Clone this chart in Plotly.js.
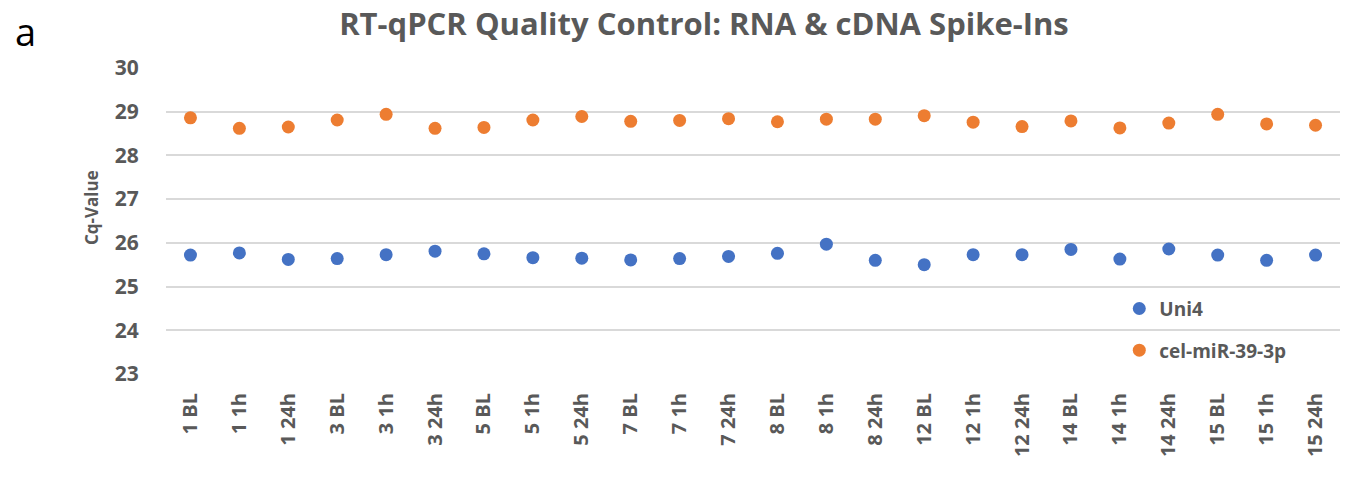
<!DOCTYPE html>
<html><head><meta charset="utf-8">
<script src="https://cdn.plot.ly/plotly-3.0.1.min.js"></script>
<style>html,body{margin:0;padding:0;background:#fff}#chart{width:1368px;height:480px}</style>
</head><body><div id="chart"></div>
<script>
const categories = ["1 BL","1 1h","1 24h","3 BL","3 1h","3 24h","5 BL","5 1h","5 24h","7 BL","7 1h","7 24h","8 BL","8 1h","8 24h","12 BL","12 1h","12 24h","14 BL","14 1h","14 24h","15 BL","15 1h","15 24h"];
const uni4 = [25.72,25.77,25.62,25.64,25.73,25.81,25.75,25.66,25.65,25.61,25.64,25.69,25.76,25.97,25.60,25.50,25.73,25.73,25.85,25.63,25.86,25.72,25.60,25.72];
const celMiR39 = [28.86,28.62,28.65,28.81,28.94,28.62,28.64,28.81,28.89,28.78,28.80,28.84,28.77,28.83,28.83,28.91,28.76,28.66,28.79,28.63,28.74,28.94,28.72,28.69];
const yTicks = [23,24,25,26,27,28,29,30];

const FONT = "'Open Sans', sans-serif";
const GRAY = "#595959";
const traces = [
  {x: categories, y: uni4, name: "<b>Uni4</b>", type: "scatter", mode: "markers", legendgroup: "g1",
   marker: {color: "#4472C4", size: 13}},
  {x: categories, y: celMiR39, name: "<b>cel-miR-39-3p</b>", type: "scatter", mode: "markers", legendgroup: "g2",
   marker: {color: "#ED7D31", size: 13}}
];
const layout = {
  width: 1368, height: 480,
  margin: {l: 166, r: 28, t: 68, b: 106},
  paper_bgcolor: "#fff", plot_bgcolor: "#fff",
  font: {family: FONT, color: GRAY},
  title: {text: "<b>RT-qPCR Quality Control: RNA & cDNA Spike-Ins</b>",
    font: {family: FONT, size: 31, color: GRAY},
    x: 0.5146, xanchor: "center", xref: "container", y: 0.95, yanchor: "middle", yref: "container"},
  xaxis: {type: "category", range: [-0.5, 23.5], tickangle: -90, showgrid: false, zeroline: false,
    showline: false, ticks: "outside", ticklen: 10, tickcolor: "rgba(0,0,0,0)",
    tickfont: {family: FONT, size: 20, color: GRAY}, tickprefix: "<b>", ticksuffix: "</b>"},
  yaxis: {range: [23, 30], tickvals: yTicks, ticktext: yTicks.map(v => "<b>" + v + "</b>"),
    showgrid: true, gridcolor: "#D9D9D9", gridwidth: 1.6, zeroline: false, showline: false,
    ticks: "outside", ticklen: 22, tickcolor: "rgba(0,0,0,0)",
    tickfont: {family: FONT, size: 21, color: GRAY}},
  legend: {x: 0.812, xanchor: "left", y: 0.145, yanchor: "middle", bgcolor: "rgba(0,0,0,0)",
    font: {family: FONT, size: 19, color: GRAY}, tracegroupgap: 14, itemwidth: 30, traceorder: "grouped"},
  annotations: [
    {text: "a", xref: "paper", yref: "paper", x: -0.13, y: 1.12, showarrow: false,
     xanchor: "left", yanchor: "middle", font: {family: FONT, size: 38, color: "#000"}},
    {text: "<b>Cq-Value</b>", xref: "paper", yref: "paper", x: -0.063, y: 0.5425, showarrow: false,
     textangle: -90, xanchor: "center", yanchor: "middle", font: {family: FONT, size: 17, color: GRAY}}
  ],
  showlegend: true
};
Plotly.newPlot("chart", traces, layout, {displayModeBar: false});
</script></body></html>
